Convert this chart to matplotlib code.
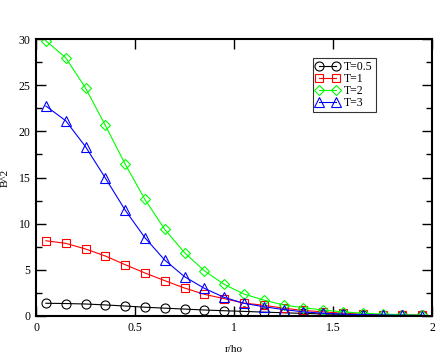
import matplotlib
matplotlib.use("Agg")
import matplotlib.pyplot as plt
from matplotlib.ticker import MultipleLocator

plt.rcParams['font.family'] = ['Liberation Serif', 'DejaVu Serif']

r = [0.05, 0.15, 0.25, 0.35, 0.45, 0.55, 0.65, 0.75, 0.85, 0.95,
     1.05, 1.15, 1.25, 1.35, 1.45, 1.55, 1.65, 1.75, 1.85, 1.95]
b_t05 = [1.38, 1.35, 1.3, 1.2, 1.08, 0.95, 0.85, 0.75, 0.65, 0.57,
         0.5, 0.42, 0.35, 0.28, 0.22, 0.18, 0.14, 0.1, 0.08, 0.06]
b_t1 = [8.15, 7.87, 7.26, 6.5, 5.56, 4.66, 3.83, 3.03, 2.35, 1.88,
        1.4, 1.16, 0.85, 0.6, 0.45, 0.3, 0.2, 0.15, 0.1, 0.08]
b_t2 = [29.8, 27.97, 24.7, 20.65, 16.46, 12.63, 9.39, 6.86, 4.9, 3.43,
        2.38, 1.73, 1.19, 0.9, 0.65, 0.45, 0.3, 0.2, 0.15, 0.1]
b_t3 = [22.74, 21.15, 18.34, 14.95, 11.48, 8.48, 6.06, 4.26, 3.0, 2.02,
        1.37, 1.01, 0.7, 0.45, 0.3, 0.2, 0.15, 0.1, 0.08, 0.05]
labels = ["T=0.5", "T=1", "T=2", "T=3"]
xticks = [0, 0.5, 1, 1.5, 2]
xtick_labels = ['0', '0.5', '1', '1.5', '2']

fig = plt.figure(figsize=(4.36, 3.53), dpi=100)
ax = fig.add_axes([36/436, 1 - 316/353, (432-36)/436, (316-39)/353])

series = [(b_t05, 'o', '#000000'), (b_t1, 's', '#ff0000'),
          (b_t2, 'D', '#00ff00'), (b_t3, '^', '#0000ff')]
for (vals, m, c), lab in zip(series, labels):
    ms = {'o': 6.5, 's': 6.3, 'D': 5.5, '^': 6.8}[m]
    ax.plot(r, vals, color=c, marker=m, markersize=ms, markerfacecolor='none',
            markeredgecolor=c, markeredgewidth=0.8, linewidth=0.8, label=lab)

ax.set_xlim(0, 2)
ax.set_ylim(0, 30)
ax.set_xticks(xticks)
ax.set_xticklabels(xtick_labels)
ax.yaxis.set_major_locator(MultipleLocator(5))
ax.yaxis.set_minor_locator(MultipleLocator(2.5))
ax.tick_params(which='both', direction='in', top=True, right=True, labelsize=8.5, width=1)
ax.tick_params(which='major', length=7, pad=4)
ax.tick_params(which='minor', length=4)
for s in ax.spines.values():
    s.set_linewidth(1.5)

ax.set_xlabel('r/ho', fontsize=8)
ax.set_ylabel('B^2', fontsize=8)
ax.xaxis.set_label_coords(0.5, (316 - 349) / 277)
ax.xaxis.label.set_va('center')
ax.yaxis.set_label_coords((5 - 36) / 396, 0.5)
ax.yaxis.label.set_va('center')

leg = ax.legend(loc='upper left', bbox_to_anchor=((313-36)/396, 1 - (58-39)/277),
                fontsize=8.5, frameon=True, fancybox=False, edgecolor='black',
                numpoints=2, handlelength=2.0, borderpad=0.25, labelspacing=0.0,
                handletextpad=0.4, borderaxespad=0)
leg.get_frame().set_linewidth(0.8)

fig.savefig('out.png', dpi=100)
